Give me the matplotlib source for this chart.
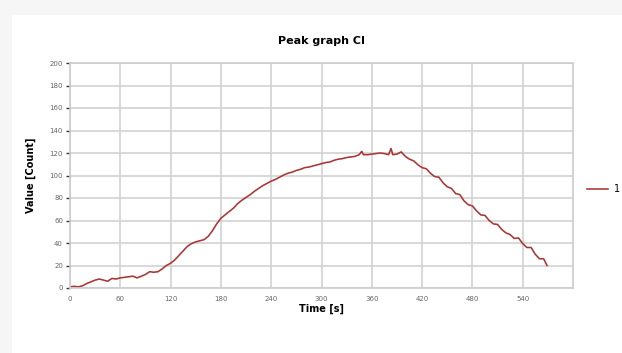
import matplotlib
matplotlib.use("Agg")
import matplotlib.pyplot as plt
from matplotlib.patches import Rectangle

time_s = [0, 5, 10, 15, 20, 25, 30, 35, 40, 45, 50, 55, 60, 65, 70, 75, 80, 85, 90, 95,
          100, 105, 110, 115, 120, 125, 130, 135, 140, 145, 150, 155, 160, 165, 170, 175,
          180, 185, 190, 195, 200, 205, 210, 215, 220, 225, 230, 235, 240, 245, 250, 255,
          260, 265, 270, 275, 280, 285, 290, 295, 300, 305, 310, 315, 320, 325, 330, 335,
          340, 345, 348, 350, 355, 360, 365, 370, 375, 380, 383, 385, 390, 395, 400, 405,
          410, 415, 420, 425, 430, 435, 440, 445, 450, 455, 460, 465, 470, 475, 480, 485,
          490, 495, 500, 505, 510, 515, 520, 525, 530, 535, 540, 545, 550, 555, 560, 565, 569]
counts = [1, 1.5, 1, 2, 4, 5.5, 7, 8, 7, 6, 8.5, 8, 9, 9.5, 10, 10.5, 9, 10.5, 12, 14.5,
          14, 14.5, 17, 20, 22, 25, 29, 33, 37, 39.5, 41, 42, 43, 46, 51, 57,
          62, 65, 68, 71, 75, 78, 80.5, 83, 86, 88.5, 91, 93, 95, 96.5, 98.5, 100.5,
          102, 103, 104.5, 105.5, 107, 107.5, 108.5, 109.5, 110.5, 111.5, 112, 113.5, 114.5, 115, 116, 116.5,
          117, 118.5, 121.5, 118.5, 118.5, 119, 119.5, 120, 119.5, 118.5, 124, 118.5, 119, 121, 117, 114.5,
          113, 109.5, 107, 106, 102, 99, 98.5, 93.5, 90, 88.5, 84, 83, 77.5, 74, 73, 68.5,
          65, 64.5, 60, 57, 56.5, 52, 49, 47.5, 44, 44.5, 39.5, 36, 36, 30, 26, 26, 20]

x_ticks = [0, 60, 120, 180, 240, 300, 360, 420, 480, 540]
y_ticks = list(range(0, 201, 20))
series_name = "1"

fig = plt.figure(figsize=(6.22, 3.53), dpi=100)
fig.patch.set_facecolor("#f6f6f6")
fig.patches.append(Rectangle((12/622, 0), 1, 1 - 15/353, transform=fig.transFigure,
                             facecolor="white", edgecolor="none", zorder=-10))

ax = fig.add_axes([70/622, 1 - 288/353, 503/622, 225/353])
ax.set_zorder(5)
ax.plot(time_s, counts, color="#a93535", lw=1.15, label=series_name)
ax.set_xlim(0, 600)
ax.set_ylim(0, 200)
ax.set_xticks(x_ticks)
ax.set_yticks(y_ticks)
ax.grid(True, color="#d2d2d2", lw=1.2)
ax.set_axisbelow(True)
for s in ax.spines.values():
    s.set_color("#cccccc")
    s.set_linewidth(1.2)
ax.tick_params(axis="x", length=0, labelsize=5, colors="#666666", pad=6)
ax.tick_params(axis="y", length=3, width=1, labelsize=5, colors="#666666", pad=2)
ax.tick_params(axis="y", color="#333333")
ax.set_title("Peak graph CI", fontsize=8, fontweight="bold", pad=14)
ax.set_xlabel("Time [s]", fontsize=7, fontweight="bold", labelpad=1)
ax.set_ylabel("Value [Count]", fontsize=7, fontweight="bold", labelpad=10)

fig.legend(loc="center left", bbox_to_anchor=(578/622, 1 - 189/353), frameon=False,
           fontsize=7, handlelength=2.2, handletextpad=0.6)

fig.savefig("out.png", dpi=100, facecolor=fig.get_facecolor())
